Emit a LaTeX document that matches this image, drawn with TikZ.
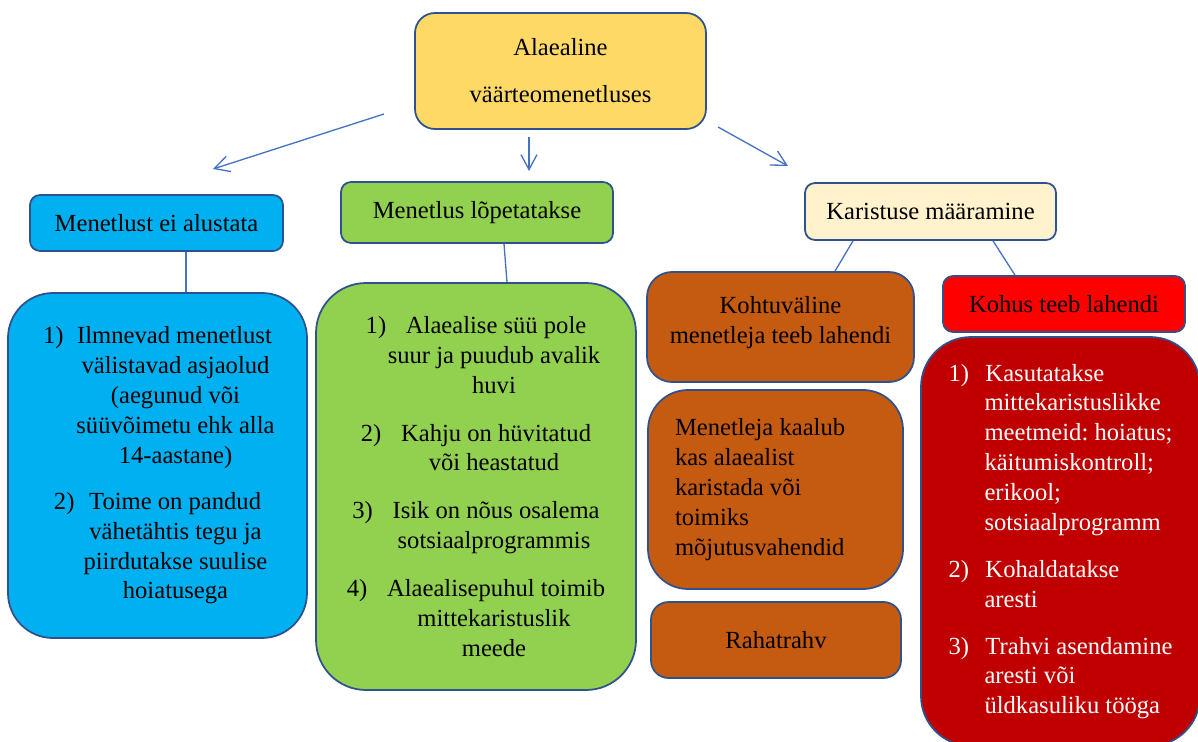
\documentclass[tikz,border=0pt]{standalone}
\usepackage{fontspec}
\setmainfont{Liberation Serif}
\newfontfamily\tnr{Liberation Serif}
\usetikzlibrary{arrows.meta}
\definecolor{rimblue}{HTML}{2F528F}
\definecolor{linkblue}{HTML}{4472C4}
\definecolor{gold}{HTML}{FFD966}
\definecolor{skyblue}{HTML}{00B0F0}
\definecolor{leafgreen}{HTML}{92D050}
\definecolor{cream}{HTML}{FFF2CC}
\definecolor{rust}{HTML}{C55A11}
\definecolor{brightred}{HTML}{FF0000}
\definecolor{darkred}{HTML}{C00000}
\newcommand{\hangsp}{\hspace*{0.72cm}}
\begin{document}
\begin{tikzpicture}
\tnr\fontsize{14pt}{17pt}\selectfont\frenchspacing
\tikzset{%
	rim/.style = {draw=rimblue, line width=1pt, text=black, align=center, inner sep=0pt},
	head/.style = {rim, rounded corners=0.2cm},
	lst/.style = {rim, rounded corners=0.9cm},
	con/.style = {-{Straight Barb[length=3mm,width=3.2mm]}, draw=linkblue, line width=.75pt},
	link/.style = {draw=linkblue, line width=.75pt}
}
\useasboundingbox (0,0) rectangle (23.96,-14.84);

% Top

\draw node at (11.21,-1.42) [rim, fill=gold, rounded corners=0.4cm, minimum width=5.82cm, minimum height=2.32cm] (top)
{Alaealine\\[0.34cm]väärteomenetluses};

% Headings

\draw node at (3.13,-4.46) [head, fill=skyblue, minimum width=5.06cm, minimum height=1.12cm] (nostart) {Menetlust ei alustata};
\draw node at (9.54,-4.25) [head, fill=leafgreen, minimum width=5.44cm, minimum height=1.22cm] (closed) {Menetlus lõpetatakse};
\draw node at (18.61,-4.23) [head, fill=cream, minimum width=5.02cm, minimum height=1.14cm] (penalty) {Karistuse määramine};

% Lists

\draw node at (3.15,-9.31) [lst, fill=skyblue, minimum width=5.98cm, minimum height=6.90cm] (nostartlst)
{1)\hspace{0.55em}Ilmnevad menetlust\\
\hangsp välistavad asjaolud\\
\hangsp (aegunud või\\
\hangsp süüvõimetu ehk alla\\
\hangsp 14-aastane)\\[0.32cm]
2)\hspace{0.6em}Toime on pandud\\
\hangsp vähetähtis tegu ja\\
\hangsp piirdutakse suulise\\
\hangsp hoiatusega};

\draw node at (9.52,-9.73) [lst, fill=leafgreen, rounded corners=1cm, minimum width=6.40cm, minimum height=8.14cm] (closedlst)
{1)\hspace{0.8em}Alaealise süü pole\\
\hangsp suur ja puudub avalik\\
\hangsp huvi\\[0.36cm]
2)\hspace{0.8em}Kahju on hüvitatud\\
\hangsp või heastatud\\[0.36cm]
3)\hspace{0.8em}Isik on nõus osalema\\
\hangsp sotsiaalprogrammis\\[0.36cm]
4)\hspace{0.8em}Alaealisepuhul toimib\\
\hangsp mittekaristuslik\\
\hangsp meede};

\draw node at (15.61,-6.54) [lst, fill=rust, rounded corners=0.5cm, minimum width=5.34cm, minimum height=2.20cm] (outcourt)
{Kohtuväline\\menetleja teeb lahendi\\[-0.3cm]\mbox{}};
\draw node at (15.51,-9.79) [lst, fill=rust, rounded corners=0.8cm, minimum width=5.10cm, minimum height=3.98cm, text width=4.02cm, align=flush left] (weigh)
{Menetleja kaalub\\kas alaealist\\karistada või\\toimiks\\mõjutusvahendid};
\draw node at (15.52,-12.80) [lst, fill=rust, rounded corners=0.35cm, minimum width=5.00cm, minimum height=1.52cm] (fine) {Rahatrahv};

\draw node at (21.28,-6.08) [head, fill=brightred, minimum width=4.84cm, minimum height=1.12cm] (court) {Kohus teeb lahendi};
\draw node at (21.21,-10.83) [lst, fill=darkred, rounded corners=1cm, text=white, align=left, minimum width=5.58cm, minimum height=8.18cm] (courtlst)
{\makebox[0.74cm][l]{1)}Kasutatakse\\
\hangsp mittekaristuslikke\\
\hangsp meetmeid: hoiatus;\\
\hangsp käitumiskontroll;\\
\hangsp erikool;\\
\hangsp sotsiaalprogramm\\[0.34cm]
\makebox[0.74cm][l]{2)}Kohaldatakse\\
\hangsp aresti\\[0.34cm]
\makebox[0.74cm][l]{3)}Trahvi asendamine\\
\hangsp aresti või\\
\hangsp üldkasuliku tööga};

% Connectors

\coordinate (a1) at (7.68,-2.28);
\coordinate (a2) at (4.26,-3.38);
\coordinate (a3) at (10.58,-2.74);
\coordinate (a4) at (10.58,-3.42);
\coordinate (a5) at (14.36,-2.54);
\coordinate (a6) at (15.76,-3.32);
\coordinate (j1) at (3.72,0);
\coordinate (j2) at (10.08,0);
\coordinate (j3) at (10.14,0);
\coordinate (k1) at (17.06,0);
\coordinate (k2) at (16.70,0);
\coordinate (k3) at (19.86,0);
\coordinate (k4) at (20.30,0);

\draw[con] (a1) -- (a2);
\draw[con] (a3) -- (a4);
\draw[con] (a5) -- (a6);
\draw[link] (nostart.south -| j1) -- (nostartlst.north -| j1);
\draw[link] (closed.south -| j2) -- (closedlst.north -| j3);
\draw[link] (penalty.south -| k1) -- (outcourt.north -| k2);
\draw[link] (penalty.south -| k3) -- (court.north -| k4);

\end{tikzpicture}
\end{document}
